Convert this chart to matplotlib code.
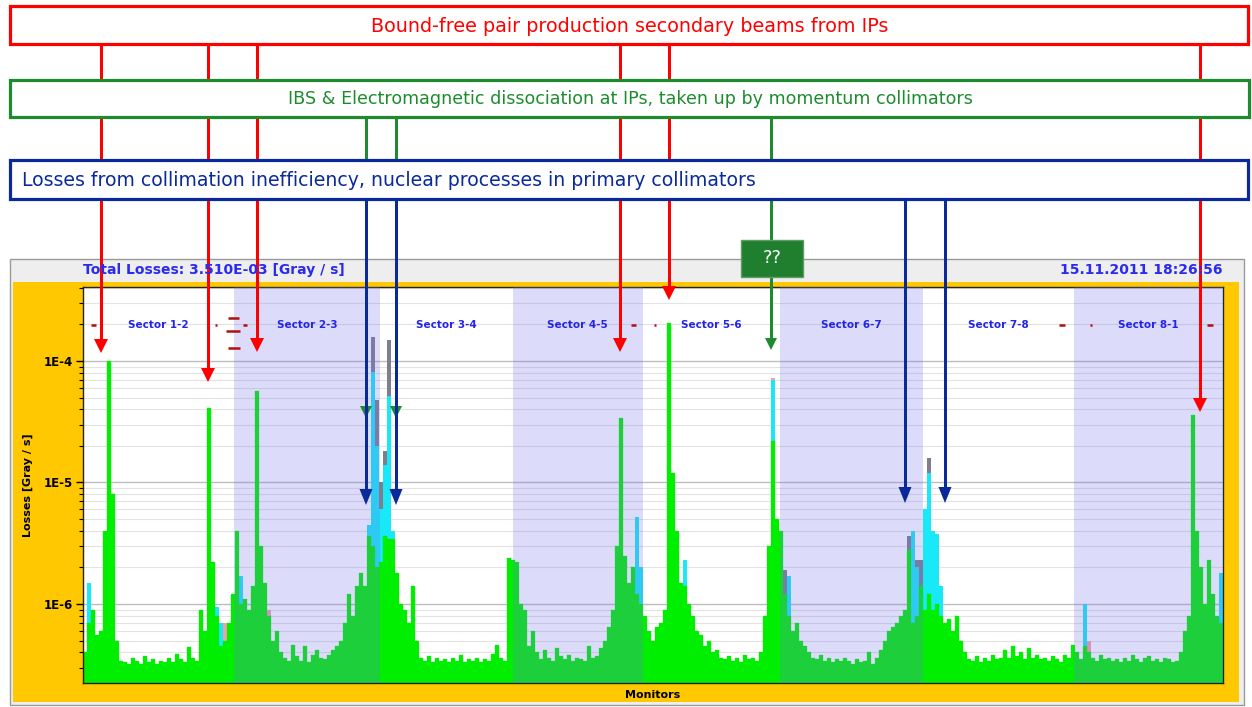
import numpy as np
import matplotlib
matplotlib.use("Agg")
import matplotlib.pyplot as plt
from matplotlib.lines import Line2D
from matplotlib.patches import Rectangle, Polygon
from matplotlib.ticker import LogLocator, NullFormatter

# BLM losses per monitor, in units of 1e-7 Gy/s
SCALE = 1e-7
green = [
    4.0, 7.0, 9.0, 5.5, 6.0, 40, 1000, 80, 5.0, 3.4,
    3.3, 3.2, 3.6, 3.4, 3.2, 3.7, 3.3, 3.5, 3.2, 3.4,
    3.3, 3.6, 3.3, 3.9, 3.5, 3.3, 4.4, 3.6, 3.4, 9.0,
    6.0, 410, 22, 8.0, 4.5, 5.0, 7.0, 12, 40, 10,
    11, 9.0, 14, 566, 30, 15, 8.0, 5.0, 6.0, 4.0,
    3.6, 3.4, 4.6, 3.7, 3.4, 4.5, 3.3, 3.8, 4.2, 3.6,
    3.5, 3.8, 4.2, 4.5, 5.0, 7.0, 12, 8.0, 14, 18,
    14, 36, 30, 20, 22, 36, 34, 34, 18, 10,
    9.0, 7.0, 14, 5.0, 3.6, 3.4, 3.7, 3.3, 3.6, 3.4,
    3.5, 3.3, 3.6, 3.4, 3.8, 3.3, 3.5, 3.4, 3.6, 3.3,
    3.5, 3.4, 3.9, 4.6, 3.6, 3.4, 24, 23, 22, 10,
    9.0, 4.5, 6.0, 4.0, 3.5, 4.2, 3.6, 3.4, 4.3, 3.7,
    3.5, 3.8, 3.4, 3.6, 3.5, 3.4, 4.5, 3.6, 3.7, 4.3,
    5.0, 6.5, 9.0, 30, 340, 25, 15, 20, 12, 10,
    8.0, 6.0, 5.0, 6.5, 7.0, 9.0, 2060, 120, 40, 15,
    14, 10, 8.0, 6.0, 5.5, 4.5, 5.0, 4.0, 4.2, 3.6,
    3.5, 3.7, 3.4, 3.6, 3.3, 3.8, 3.5, 3.6, 3.4, 4.0,
    8.0, 30, 220, 50, 40, 12, 8.0, 6.0, 7.0, 5.0,
    4.5, 4.0, 3.6, 3.5, 3.8, 3.4, 3.6, 3.3, 3.5, 3.4,
    3.6, 3.4, 3.2, 3.5, 3.3, 3.4, 4.0, 3.2, 3.6, 4.2,
    5.0, 6.0, 6.5, 7.0, 8.0, 9.0, 28, 7.0, 8.0, 14,
    9.0, 12, 9.0, 10, 8.0, 7.0, 7.5, 6.0, 8.0, 5.0,
    4.0, 3.5, 3.4, 3.7, 3.3, 3.6, 3.4, 3.8, 3.5, 3.6,
    4.2, 3.6, 4.5, 3.7, 4.0, 3.5, 4.3, 3.6, 3.8, 3.5,
    3.6, 3.4, 3.7, 3.5, 3.3, 3.8, 3.6, 4.6, 4.0, 3.5,
    4.5, 4.0, 3.6, 3.4, 3.8, 3.5, 3.6, 3.4, 3.5, 3.3,
    3.6, 3.4, 3.8, 3.5, 3.3, 3.6, 3.7, 3.4, 3.5, 3.3,
    3.6, 3.5, 3.3, 3.4, 4.0, 6.0, 8.0, 360, 40, 20,
    10, 23, 12, 8.0, 7.0,
]
cyan_idx = [1, 33, 34, 39, 71, 72, 73, 74, 75, 76, 77, 78, 138, 139, 150,
            172, 176, 207, 208, 210, 211, 212, 213, 214, 250, 284]
cyan_val = [15, 9.5, 7.0, 17, 45, 810, 200, 60, 140, 510, 40, 14, 52, 20, 23,
            700, 17, 40, 20, 60, 120, 40, 38, 14, 10, 18]
gray_idx = [72, 73, 74, 75, 76, 175, 206, 207, 208, 209, 211, 212, 213]
gray_val = [1580, 480, 100, 180, 1490, 19, 36, 34, 23, 23, 160, 36, 32]
pink_idx = [35, 46, 172, 251]
pink_val = [7.0, 9.0, 730, 5.0]

# threshold marks (monitor range, level)
dash_x0 = [2.0, 33.0, 36.25, 35.75, 40.0, 36.25, 137.0, 142.75, 244.0, 251.75, 281.0]
dash_x1 = [3.25, 33.5, 39.0, 39.25, 41.0, 39.25, 138.25, 143.25, 245.5, 252.25, 282.5]
dash_y = [1980, 1980, 2260, 1770, 1980, 1280, 1980, 1980, 1980, 1980, 1980]

sectors = ["Sector 1-2", "Sector 2-3", "Sector 3-4", "Sector 4-5",
           "Sector 5-6", "Sector 6-7", "Sector 7-8", "Sector 8-1"]
sector_mid = [18.75, 56, 90.75, 123.5, 157, 192, 228.75, 266.25]
shaded = [(37.75, 74.25), (107.5, 140), (174.25, 210), (247.75, 285)]

W, H = 1252, 707
fig = plt.figure(figsize=(W / 100, H / 100), dpi=100)
fig.patch.set_facecolor("white")


def fx(x):
    return x / W


def fy(y):
    return 1 - y / H


# display panel
fig.add_artist(Rectangle((fx(10), fy(705)), 1234 / W, 446 / H, transform=fig.transFigure,
                         fc="#EEEEEE", ec="#9A9A9A", lw=1, zorder=-3))
fig.add_artist(Rectangle((fx(13), fy(702)), 1226 / W, 420 / H, transform=fig.transFigure,
                         fc="#FFC800", lw=0, zorder=-2))
fig.text(fx(83), fy(270), "Total Losses: 3.510E-03 [Gray / s]", ha="left", va="center",
         color="#2B2BF0", fontsize=10, fontweight="bold")
fig.text(fx(1222), fy(270), "15.11.2011 18:26:56", ha="right", va="center",
         color="#2B2BF0", fontsize=10, fontweight="bold")

ax = fig.add_axes([fx(83), fy(683), 1140 / W, 396 / H])
ax.set_facecolor("white")
ax.set_yscale("log")
ax.set_xlim(0, 285)
ax.set_ylim(2.24e-7, 4.06e-4)
ax.set_axisbelow(True)

x_all = np.arange(len(green))
bottom = 1e-9
ax.bar(gray_idx, np.array(gray_val) * SCALE, width=1, align="edge", bottom=bottom,
       color="#7E7E8C", lw=0, zorder=2)
ax.bar(pink_idx, np.array(pink_val) * SCALE, width=1, align="edge", bottom=bottom,
       color="#F2A0A8", lw=0, zorder=2)
ax.bar(cyan_idx, np.array(cyan_val) * SCALE, width=1, align="edge", bottom=bottom,
       color="#18E8F8", lw=0, zorder=2)
ax.bar(x_all, np.array(green) * SCALE, width=1, align="edge", bottom=bottom,
       color="#00EE00", ec="#00EE00", lw=0.2, zorder=2)

for a, b in shaded:
    ax.axvspan(a, b, color="#7474EC", alpha=0.25, lw=0, zorder=3)

for name, xm in zip(sectors, sector_mid):
    ax.text(xm, 1.98e-4, name, ha="center", va="center", color="#2424E8",
            fontsize=7.5, fontweight="bold", zorder=5)
ax.hlines(np.array(dash_y) * SCALE, dash_x0, dash_x1, color="#B01010", lw=1.8, zorder=5)

ax.set_xticks([])
ax.set_yticks([1e-6, 1e-5, 1e-4], ["1E-6", "1E-5", "1E-4"], fontweight="bold", fontsize=8.5)
ax.yaxis.set_minor_locator(LogLocator(base=10, subs=np.arange(2, 10)))
ax.yaxis.set_minor_formatter(NullFormatter())
ax.tick_params(axis="y", which="major", length=5, width=1, pad=2)
ax.tick_params(axis="y", which="minor", length=3, width=0.8)
ax.grid(True, which="major", axis="y", color="#BDBDBD", lw=1)
ax.grid(True, which="minor", axis="y", color="#E3E3E3", lw=0.8)
for s in ax.spines.values():
    s.set_color("#222222")
    s.set_linewidth(1)
ax.set_ylabel("Losses [Gray / s]", fontsize=8, fontweight="bold")
ax.yaxis.set_label_coords(-50 / 1140, 0.5)
ax.set_xlabel("Monitors", fontsize=8, fontweight="bold")
ax.xaxis.set_label_coords(0.5, -7 / 396)


# annotation layer on top of the display
def arrow(x, y0, y1, color, hw=14, hl=14, lw=3):
    fig.add_artist(Line2D([fx(x), fx(x)], [fy(y0), fy(y1 - hl + 1)], transform=fig.transFigure,
                          color=color, lw=lw * 0.72, solid_capstyle="butt", zorder=2))
    fig.add_artist(Polygon([[fx(x - hw / 2), fy(y1 - hl)], [fx(x + hw / 2), fy(y1 - hl)],
                            [fx(x), fy(y1)]], closed=True, transform=fig.transFigure,
                           color=color, lw=0, zorder=2))


def box(x0, y0, x1, y1, ec):
    fig.add_artist(Rectangle((fx(x0), fy(y1)), (x1 - x0) / W, (y1 - y0) / H,
                             transform=fig.transFigure, fc="white", ec=ec, lw=2.3, zorder=3))


RED, GREEN, BLUE = "#FF0000", "#1E8C2E", "#0B2A9A"

for x, y1 in [(101, 353), (208, 382), (257, 352), (620, 352), (669, 300), (1200, 412)]:
    arrow(x, 44, y1, RED)
for x, y1 in [(366, 418), (396, 418), (771, 350)]:
    arrow(x, 116, y1, GREEN, hw=12, hl=12)
for x, y1 in [(366, 505), (396, 505), (905, 503), (945, 503)]:
    arrow(x, 198, y1, BLUE, hw=13, hl=16)

box(9.5, 6, 1247.5, 43.5, RED)
box(9.5, 80, 1249, 116.5, GREEN)
box(9.5, 159.5, 1248, 198.5, BLUE)

fig.text(fx(630), fy(26), "Bound-free pair production secondary beams from IPs",
         ha="center", va="center", color=RED, fontsize=13.8, zorder=4)
fig.text(fx(630), fy(99), "IBS & Electromagnetic dissociation at IPs, taken up by momentum collimators",
         ha="center", va="center", color=GREEN, fontsize=12.6, zorder=4)
fig.text(fx(22), fy(180), "Losses from collimation inefficiency, nuclear processes in primary collimators",
         ha="left", va="center", color=BLUE, fontsize=13.6, zorder=4)

fig.add_artist(Rectangle((fx(741), fy(277)), 62 / W, 37 / H, transform=fig.transFigure,
                         fc="#1F7F2E", ec="#5E9E66", lw=1, zorder=3))
fig.text(fx(772), fy(258), "??", ha="center", va="center", color="white", fontsize=13, zorder=4)

fig.savefig("out.png", dpi=100)
